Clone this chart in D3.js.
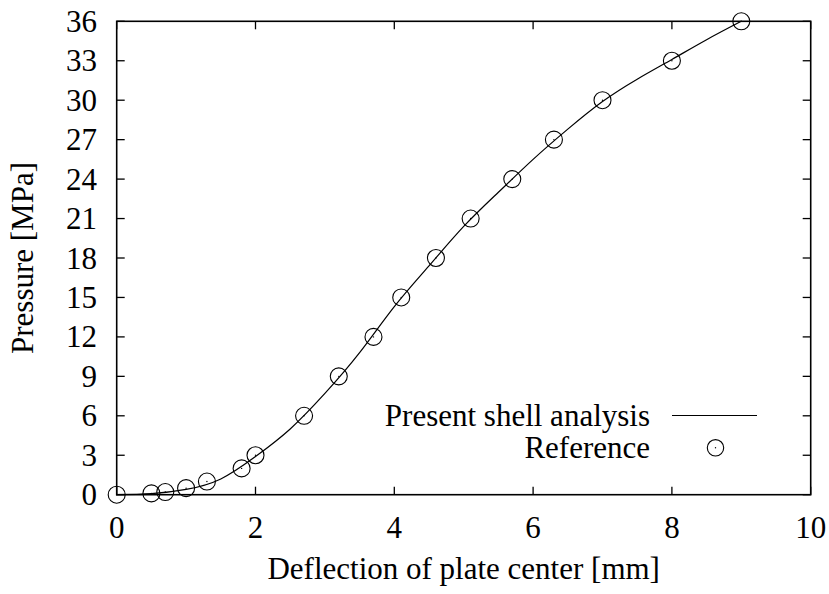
<!DOCTYPE html>
<html>
<head>
<meta charset="utf-8">
<script src="https://cdn.jsdelivr.net/npm/d3@7"></script>
<style>
  html, body { margin: 0; padding: 0; background: #fff; }
  svg { display: block; }
</style>
</head>
<body>
<svg id="chart" width="829" height="594"></svg>
<script>
// Reference data points (circles)
const refX = [0, 0.5, 0.7, 1.0, 1.3, 1.8, 2.0, 2.7, 3.2, 3.7, 4.1, 4.6, 5.1, 5.7, 6.3, 7.0, 8.0, 9.0];
const refY = [0, 0.1, 0.2, 0.5, 1.0, 2.0, 3.0, 6.0, 9.0, 12.0, 15.0, 18.0, 21.0, 24.0, 27.0, 30.0, 33.0, 36.0];

// Present shell analysis (line)
const shellX = [0, 0.5, 1.0, 1.5, 2.0, 2.5, 3.0, 3.5, 4.0, 4.5, 5.0, 5.5, 6.0, 6.5, 7.0, 7.5, 8.0, 8.5, 9.0];
const shellY = [0, 0.08, 0.4, 1.2, 2.9, 5.0, 7.7, 10.8, 14.3, 17.4, 20.4, 23.0, 25.5, 27.8, 29.9, 31.6, 33.1, 34.6, 36.0];

const xTicks = [0, 2, 4, 6, 8, 10];
const yTicks = [0, 3, 6, 9, 12, 15, 18, 21, 24, 27, 30, 33, 36];

const xLabel = "Deflection of plate center [mm]";
const yLabel = "Pressure [MPa]";
const legendLine = "Present shell analysis";
const legendPts = "Reference";

const FONT = "'Liberation Serif', 'Times New Roman', Tinos, monospace";
const svg = d3.select("#chart");
const L = 116.7, R = 810.7, T = 21.3, B = 494.7;
const x = d3.scaleLinear().domain([0, 10]).range([L, R]);
const y = d3.scaleLinear().domain([0, 36]).range([B, T]);
const fs = 31;
const tickLen = 8;

function txt(sel) {
  return sel.attr("font-size", fs).style("font-family", FONT);
}

// Ticks (inward, mirrored)
const g = svg.append("g").attr("stroke", "#000").attr("stroke-width", 1.3);
xTicks.forEach(v => {
  g.append("line").attr("x1", x(v)).attr("x2", x(v)).attr("y1", B).attr("y2", B - tickLen);
  g.append("line").attr("x1", x(v)).attr("x2", x(v)).attr("y1", T).attr("y2", T + tickLen);
});
yTicks.forEach(v => {
  g.append("line").attr("x1", L).attr("x2", L + tickLen).attr("y1", y(v)).attr("y2", y(v));
  g.append("line").attr("x1", R).attr("x2", R - tickLen).attr("y1", y(v)).attr("y2", y(v));
});

// Tick labels
txt(svg.append("g").selectAll("text").data(xTicks).join("text"))
  .attr("x", d => x(d)).attr("y", 538).attr("text-anchor", "middle").text(d => d);
txt(svg.append("g").selectAll("text").data(yTicks).join("text"))
  .attr("x", 97).attr("y", d => y(d) + 10.5).attr("text-anchor", "end").text(d => d);

// Axis titles
txt(svg.append("text")).attr("x", (L + R) / 2).attr("y", 579).attr("text-anchor", "middle").text(xLabel);
txt(svg.append("text")).attr("transform", `translate(33,${(T + B) / 2}) rotate(-90)`)
  .attr("text-anchor", "middle").text(yLabel);

// Line
const lineData = shellX.map((v, i) => [v, shellY[i]]);
svg.append("path").datum(lineData)
  .attr("fill", "none").attr("stroke", "#000").attr("stroke-width", 1.2)
  .attr("d", d3.line().x(d => x(d[0])).y(d => y(d[1])).curve(d3.curveNatural));

// Points
const ptData = refX.map((v, i) => [v, refY[i]]);
const pg = svg.append("g");
pg.selectAll("circle.p").data(ptData).join("circle")
  .attr("class", "p").attr("cx", d => x(d[0])).attr("cy", d => y(d[1])).attr("r", 8.5)
  .attr("fill", "none").attr("stroke", "#000").attr("stroke-width", 1.1);
pg.selectAll("circle.d").data(ptData).join("circle")
  .attr("class", "d").attr("cx", d => x(d[0])).attr("cy", d => y(d[1])).attr("r", 0.7)
  .attr("fill", "#000");

// Legend
txt(svg.append("text")).attr("x", 650).attr("y", 425.5).attr("text-anchor", "end").text(legendLine);
svg.append("line").attr("x1", 672).attr("x2", 757).attr("y1", 415.5).attr("y2", 415.5)
  .attr("stroke", "#000").attr("stroke-width", 1.2);
txt(svg.append("text")).attr("x", 650).attr("y", 458).attr("text-anchor", "end").text(legendPts);
svg.append("circle").attr("cx", 715.5).attr("cy", 447.8).attr("r", 8.2)
  .attr("fill", "none").attr("stroke", "#000").attr("stroke-width", 1.1);
svg.append("circle").attr("cx", 715.5).attr("cy", 447.8).attr("r", 0.7).attr("fill", "#000");

// Border
svg.append("rect").attr("x", L).attr("y", T).attr("width", R - L).attr("height", B - T)
  .attr("fill", "none").attr("stroke", "#000").attr("stroke-width", 1.6);
</script>
</body>
</html>
